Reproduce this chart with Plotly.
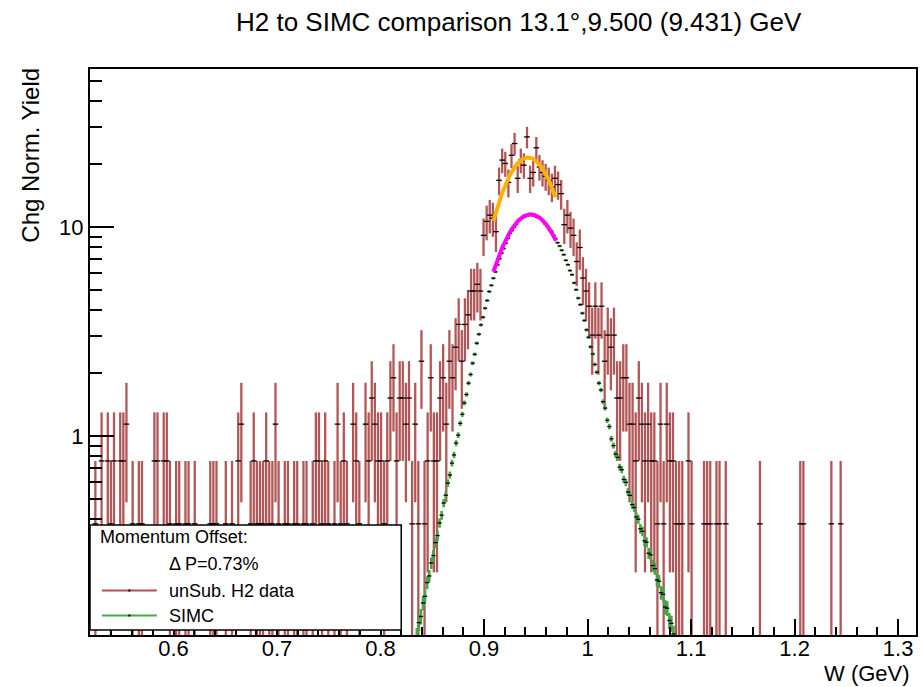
import numpy as np
import plotly.graph_objects as go

# ---------------- data: un-subtracted H2 yield (counts per 3 MeV bin) ----------------
data_w_lo = 0.52          # GeV, lower edge of first bin
data_bin = 0.003          # GeV
yield_per_count = 0.38    # charge-normalised yield of one event
data_counts = [
    0, 1, 0, 2, 0, 2, 1, 2, 0, 2,
    2, 3, 0, 1, 0, 1, 1, 0, 0, 0,
    2, 2, 0, 2, 2, 1, 0, 1, 1, 0,
    1, 1, 0, 1, 0, 0, 0, 0, 1, 1,
    1, 0, 0, 1, 0, 1, 0, 2, 3, 0,
    0, 1, 2, 1, 1, 1, 2, 1, 1, 3,
    1, 0, 1, 1, 0, 1, 1, 0, 1, 1,
    0, 1, 2, 2, 1, 2, 1, 0, 1, 3,
    1, 2, 1, 0, 3, 2, 1, 0, 3, 2,
    4, 3, 2, 2, 1, 2, 4, 5, 2, 4,
    4, 3, 4, 1, 3, 1, 6, 1, 2, 5,
    2, 2, 4, 5, 3, 6, 5, 7, 9, 6,
    9, 10, 13, 13, 14, 13, 24, 28, 30, 29,
    25, 44, 55, 53, 43, 58, 66, 45, 55, 52,
    71, 45, 48, 63, 51, 48, 46, 44, 41, 45,
    42, 38, 27, 30, 26, 24, 18, 21, 15, 13,
    11, 8, 11, 8, 11, 6, 8, 7, 8, 4,
    4, 5, 5, 3, 3, 2, 4, 3, 2, 3,
    2, 2, 1, 3, 1, 3, 2, 2, 1, 1,
    1, 0, 2, 1, 0, 0, 0, 1, 1, 1,
    0, 1, 1, 0, 1, 0, 0, 0, 0, 0,
    0, 0, 0, 0, 0, 1, 0, 0, 0, 0,
    0, 0, 0, 0, 0, 0, 0, 0, 1, 1,
    0, 0, 0, 0, 0, 0, 0, 0, 1, 0,
    0, 1,
]

# ---------------- SIMC: simulated yield (2 MeV bins) ----------------
simc_w_lo = 0.834
simc_bin = 0.002
simc_event_weight = 0.001    # yield carried by one simulated event
simc_yield = [
    0.110, 0.128, 0.137, 0.159, 0.171, 0.199, 0.214, 0.247, 0.268, 0.309,
    0.334, 0.384, 0.418, 0.478, 0.521, 0.596, 0.651, 0.742, 0.812, 0.925,
    1.01, 1.15, 1.27, 1.44, 1.58, 1.79, 1.97, 2.23, 2.46, 2.78,
    3.07, 3.40, 3.70, 4.09, 4.45, 4.91, 5.26, 5.69, 6.10, 6.59,
    7.06, 7.50, 7.89, 8.37, 8.82, 9.34, 9.62, 9.97, 10.27, 10.64,
    10.94, 11.09, 11.16, 11.29, 11.36, 11.49, 11.36, 11.29, 11.15, 11.08,
    10.95, 10.69, 10.36, 10.11, 9.80, 9.57, 9.14, 8.81, 8.41, 8.11,
    7.74, 7.37, 6.93, 6.60, 6.19, 5.91, 5.40, 5.01, 4.57, 4.25,
    3.87, 3.57, 3.22, 2.97, 2.67, 2.47, 2.20, 2.02, 1.79, 1.66,
    1.46, 1.36, 1.19, 1.11, 0.97, 0.90, 0.82, 0.79, 0.71, 0.69,
    0.62, 0.60, 0.54, 0.52, 0.47, 0.455, 0.41, 0.40, 0.36, 0.35,
    0.315, 0.31, 0.275, 0.27, 0.24, 0.232, 0.205, 0.202, 0.178, 0.175,
    0.152, 0.150, 0.131, 0.127, 0.113,
]

# ---------------- Gaussian peak fits: [amplitude, mean, sigma], [range] ----------------
data_fit_params = [21.5, 0.9425, 0.0283]
data_fit_range = [0.909, 0.969]
simc_fit_params = [11.5, 0.945, 0.032]
simc_fit_range = [0.909, 0.9695]

x_tick_vals = [0.6, 0.7, 0.8, 0.9, 1.0, 1.1, 1.2, 1.3]
x_tick_text = ["0.6", "0.7", "0.8", "0.9", "1", "1.1", "1.2", "1.3"]
y_tick_vals = [1, 10]
y_tick_text = ["1", "10"]
y_minor_vals = [0.2, 0.3, 0.4, 0.5, 0.6, 0.7, 0.8, 0.9,
                2, 3, 4, 5, 6, 7, 8, 9, 20, 30, 40, 50]

FONT = "Liberation Sans, Arial, Helvetica, sans-serif"
DATA_RED = "rgba(155,40,40,0.78)"
SIMC_GREEN = "rgb(70,165,70)"

# ---- derived histogram quantities ----
counts = np.array(data_counts, dtype=float)
centers = data_w_lo + data_bin * (np.arange(len(counts)) + 0.5)
filled = counts > 0
d_x = centers[filled]
d_y = counts[filled] * yield_per_count
d_err = np.sqrt(counts[filled]) * yield_per_count

s_y = np.array(simc_yield)
s_x = simc_w_lo + simc_bin * (np.arange(len(s_y)) + 0.5)
s_err = np.sqrt(s_y * simc_event_weight)


def gauss_curve(params, rng):
    amp, mu, sig = params
    xs = np.linspace(rng[0], rng[1], 200)
    return xs, amp * np.exp(-0.5 * ((xs - mu) / sig) ** 2)


fig = go.Figure()

fig.add_trace(go.Scatter(
    x=d_x, y=d_y, mode="markers",
    marker=dict(symbol="line-ew", size=4, color="black",
                line=dict(color="black", width=1.3)),
    error_y=dict(type="data", array=d_err, visible=True,
                 color=DATA_RED, thickness=2.3, width=0),
    showlegend=False, hoverinfo="skip"))

fig.add_trace(go.Scatter(
    x=s_x, y=s_y, mode="markers",
    marker=dict(symbol="line-ew", size=3, color="black",
                line=dict(color="black", width=1.3)),
    error_y=dict(type="data", array=s_err, visible=True,
                 color=SIMC_GREEN, thickness=2.6, width=0),
    error_x=dict(type="constant", value=simc_bin / 2, visible=True,
                 color=SIMC_GREEN, thickness=2.4, width=0),
    showlegend=False, hoverinfo="skip"))

fx, fy = gauss_curve(data_fit_params, data_fit_range)
fig.add_trace(go.Scatter(x=fx, y=fy, mode="lines",
                         line=dict(color="#ffb000", width=4),
                         showlegend=False, hoverinfo="skip"))
fx, fy = gauss_curve(simc_fit_params, simc_fit_range)
fig.add_trace(go.Scatter(x=fx, y=fy, mode="lines",
                         line=dict(color="#ff00ff", width=4),
                         showlegend=False, hoverinfo="skip"))

# ---- legend box drawn in paper coordinates ----
L, R, T, B, W, H = 90, 4, 69, 52, 922, 687
PW, PH = W - L - R, H - T - B


def px(xp):
    return (xp - L) / PW


def py(yp):
    return (H - B - yp) / PH


shapes = [
    dict(type="rect", xref="paper", yref="paper", layer="above",
         x0=px(90), x1=px(402), y0=py(630), y1=py(525),
         fillcolor="white", line=dict(color="black", width=1.5)),
    dict(type="line", xref="paper", yref="paper", layer="above",
         x0=px(102), x1=px(157), y0=py(590.5), y1=py(590.5),
         line=dict(color="rgb(180,80,80)", width=2)),
    dict(type="line", xref="paper", yref="paper", layer="above",
         x0=px(102), x1=px(157), y0=py(615.5), y1=py(615.5),
         line=dict(color="rgb(70,170,70)", width=2)),
    dict(type="rect", xref="paper", yref="paper", layer="above",
         x0=px(128.5), x1=px(130.5), y0=py(591.5), y1=py(589.5),
         fillcolor="black", line=dict(width=0)),
    dict(type="rect", xref="paper", yref="paper", layer="above",
         x0=px(128.5), x1=px(130.5), y0=py(616.5), y1=py(614.5),
         fillcolor="black", line=dict(width=0)),
]

legend_font = dict(family=FONT, size=18, color="black")
annotations = [
    dict(text="Momentum Offset:", x=px(98), y=py(537), xref="paper", yref="paper",
         xanchor="left", yanchor="middle", showarrow=False, font=legend_font),
    dict(text="\u0394 P=0.73%", x=px(167), y=py(564), xref="paper", yref="paper",
         xanchor="left", yanchor="middle", showarrow=False, font=legend_font),
    dict(text="unSub. H2 data", x=px(167), y=py(590.5), xref="paper", yref="paper",
         xanchor="left", yanchor="middle", showarrow=False, font=legend_font),
    dict(text="SIMC", x=px(167), y=py(616), xref="paper", yref="paper",
         xanchor="left", yanchor="middle", showarrow=False, font=legend_font),
    # axis titles
    dict(text="W (GeV)", x=px(913), y=py(687), xref="paper", yref="paper",
         xanchor="right", yanchor="bottom", showarrow=False, borderpad=0,
         font=dict(family=FONT, size=22, color="black")),
    dict(text="Chg Norm. Yield", x=px(30), y=py(66), xref="paper", yref="paper",
         xanchor="center", yanchor="top", textangle=-90, showarrow=False,
         font=dict(family=FONT, size=24, color="black")),
    # title
    dict(text="H2 to SIMC comparison 13.1\u00b0,9.500 (9.431) GeV",
         x=px(520), y=py(22), xref="paper", yref="paper",
         xanchor="center", yanchor="middle", showarrow=False,
         font=dict(family=FONT, size=26, color="black")),
]

fig.update_layout(
    width=W, height=H,
    margin=dict(l=L, r=R, t=T, b=B, pad=0),
    paper_bgcolor="white", plot_bgcolor="white",
    font=dict(family=FONT, color="black"),
    shapes=shapes, annotations=annotations,
    showlegend=False,
)

fig.update_xaxes(
    range=[0.5193, 1.3173], tickmode="array",
    tickvals=x_tick_vals, ticktext=x_tick_text,
    ticks="inside", ticklen=16, tickwidth=1.5, tickcolor="black",
    minor=dict(ticks="inside", ticklen=8, tickwidth=1.5, tickcolor="black",
               dtick=0.02, tick0=0.5),
    showline=True, linewidth=2, linecolor="black", mirror=True,
    showgrid=False, zeroline=False, ticklabelstandoff=-7,
    tickfont=dict(family=FONT, size=22, color="black"),
)

fig.update_yaxes(
    type="log", range=[-0.952, 1.756], tickmode="array",
    tickvals=y_tick_vals, ticktext=y_tick_text,
    ticks="inside", ticklen=24, tickwidth=1.5, tickcolor="black",
    minor=dict(ticks="inside", ticklen=12, tickwidth=1.5, tickcolor="black",
               tickmode="array", tickvals=y_minor_vals),
    showline=True, linewidth=2, linecolor="black", mirror=True,
    showgrid=False, zeroline=False,
    tickfont=dict(family=FONT, size=22, color="black"),
)

fig.write_html("out.html")
